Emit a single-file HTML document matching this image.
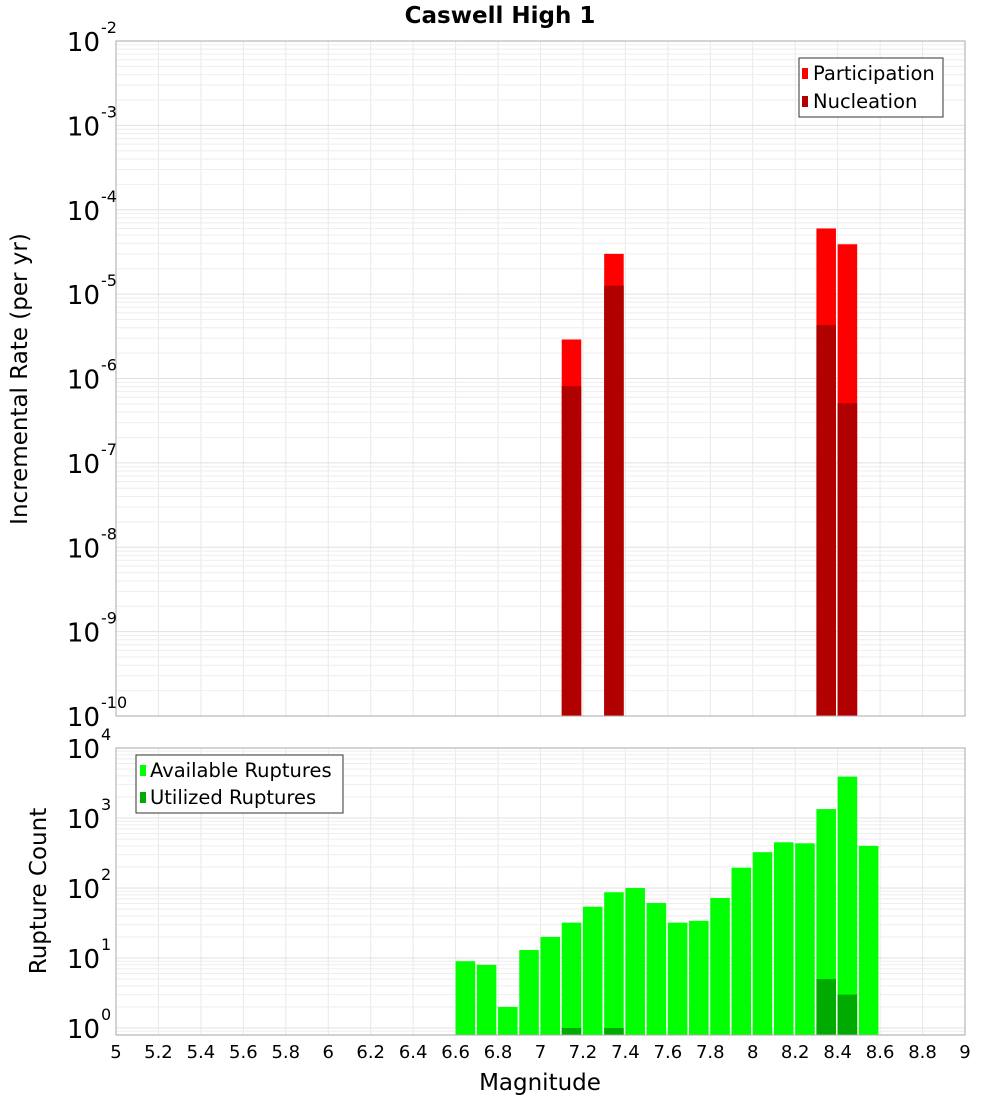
<!DOCTYPE html>
<html><head><meta charset="utf-8"><style>
body{margin:0;background:#fff;}
svg{display:block;font-family:"DejaVu Sans","Liberation Sans",sans-serif;}
</style></head><body>
<svg id="chart" width="1000" height="1100" xmlns="http://www.w3.org/2000/svg">
<text x="500" y="23" text-anchor="middle" font-size="23" font-weight="bold">Caswell High 1</text>
<g id="topg"></g><g id="botg"></g><g id="axes"></g>
<text transform="translate(27,379) rotate(-90)" text-anchor="middle" font-size="23">Incremental Rate (per yr)</text>
<text transform="translate(46,891) rotate(-90)" text-anchor="middle" font-size="23">Rupture Count</text>
<text x="540" y="1090" text-anchor="middle" font-size="23">Magnitude</text>
<g>
<rect x="799" y="58" width="144" height="59" fill="#fff" stroke="#333"/>
<rect x="802" y="68" width="6" height="11" fill="#ff0000"/>
<text x="813" y="80" font-size="19.5">Participation</text>
<rect x="802" y="96" width="6" height="11" fill="#b00000"/>
<text x="813" y="108" font-size="19.5">Nucleation</text>
</g>
<g>
<rect x="136" y="755" width="207" height="58" fill="#fff" stroke="#333"/>
<rect x="140" y="765" width="6" height="11" fill="#00ff00"/>
<text x="150" y="777" font-size="19.5">Available Ruptures</text>
<rect x="140" y="792" width="6" height="11" fill="#00aa00"/>
<text x="150" y="804" font-size="19.5">Utilized Ruptures</text>
</g>
</svg>
<script>
const topMags=[7.1,7.3,8.3,8.4];
const participation=[2.9e-6,3.0e-5,6.0e-5,3.9e-5];
const nucleation=[8.1e-7,1.26e-5,4.3e-6,5.1e-7];
const botMags=[6.6,6.7,6.8,6.9,7.0,7.1,7.2,7.3,7.4,7.5,7.6,7.7,7.8,7.9,8.0,8.1,8.2,8.3,8.4,8.5];
const available=[9,8,2,13,20,32,54,87,100,61,32,34,72,195,325,450,435,1340,3900,400];
const utilizedMags=[7.1,7.3,8.3,8.4];
const utilized=[1,1,5,3];
const xTicks=[5,5.2,5.4,5.6,5.8,6,6.2,6.4,6.6,6.8,7,7.2,7.4,7.6,7.8,8,8.2,8.4,8.6,8.8,9];
const topExps=[-2,-3,-4,-5,-6,-7,-8,-9,-10];
const botExps=[4,3,2,1,0];

(function(){
const NS="http://www.w3.org/2000/svg";
const X0=116,X1=965;
const xs=m=>X0+(m-5)/4*(X1-X0);
const T0=41,T1=716;
const ty=v=>T0+(-2-Math.log10(v))*(T1-T0)/8;
const B0=748,B1=1035,BD=70;
const by=v=>1028-Math.log10(v)*BD;
function mk(p,t,a){const e=document.createElementNS(NS,t);for(const k in a)e.setAttribute(k,a[k]);p.appendChild(e);return e;}
const topG=document.getElementById('topg'),botG=document.getElementById('botg'),axes=document.getElementById('axes');

function grid(g,y0,y1,yf,eMin,eMax){
  for(const t of xTicks){const l=mk(g,'line',{x1:xs(t),x2:xs(t),y1:y0,y2:y1,stroke:'#e8e8e8'});
    
    }
  for(let e=eMin;e<=eMax;e++)for(let k=1;k<10;k++){const y=yf(k*Math.pow(10,e));if(y<y0||y>y1)continue;
    const l=mk(g,'line',{x1:X0,x2:X1,y1:y,y2:y,stroke:k==1?'#e0e0e0':'#eeeeee'});
    
    }
}
grid(topG,T0,T1,ty,-10,-3);
grid(botG,B0,B1,by,-1,3);

const bw=(X1-X0)/40*0.92;
topMags.forEach((m,i)=>{
  const r=mk(topG,'rect',{x:xs(m),y:ty(participation[i]),width:bw,height:T1-ty(participation[i]),fill:'#ff0000'});
  
  
  const n=mk(topG,'rect',{x:xs(m),y:ty(nucleation[i]),width:bw,height:T1-ty(nucleation[i]),fill:'#b00000'});
  
  
});
botMags.forEach((m,i)=>{
  const r=mk(botG,'rect',{x:xs(m),y:by(available[i]),width:bw,height:B1-by(available[i]),fill:'#00ff00'});
  
  
});
utilizedMags.forEach((m,i)=>{
  const r=mk(botG,'rect',{x:xs(m),y:by(utilized[i]),width:bw,height:B1-by(utilized[i]),fill:'#00aa00'});
  
  
});
mk(axes,'rect',{x:X0,y:T0,width:X1-X0,height:T1-T0,fill:'none',stroke:'#aaa'});
mk(axes,'rect',{x:X0,y:B0,width:X1-X0,height:B1-B0,fill:'none',stroke:'#aaa'});
function ylab(y,e){
  const t=mk(axes,'text',{x:100,y:y+10,'text-anchor':'end','font-size':26});
  t.textContent='10';
  
  
  const s=mk(axes,'text',{x:101,y:y-8,'font-size':16});
  s.textContent=String(e);
  
  
}
topExps.forEach(e=>ylab(ty(Math.pow(10,e)),e));
botExps.forEach(e=>ylab(by(Math.pow(10,e)),e));
xTicks.forEach(t=>{
  const l=mk(axes,'text',{x:xs(t),y:1058,'text-anchor':'middle','font-size':18});
  l.textContent=String(t);
  
  
});
})();
</script>
</body></html>
